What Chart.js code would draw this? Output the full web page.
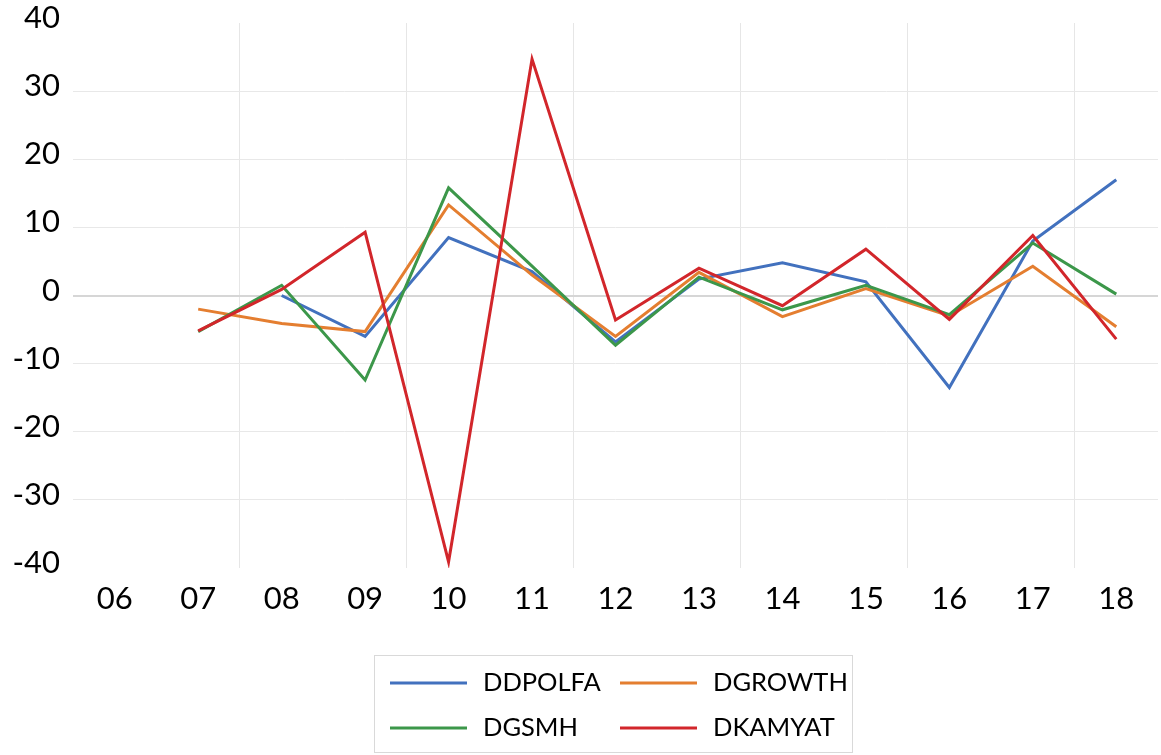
<!DOCTYPE html>
<html>
<head>
<meta charset="utf-8">
<script src="https://cdn.jsdelivr.net/npm/chart.js@4.4.1/dist/chart.umd.min.js"></script>
<style>
  html, body { margin: 0; padding: 0; background: #fff; }
  #wrap { width: 1161px; height: 755px; }
</style>
</head>
<body>
<div id="wrap"><canvas id="chart" width="1161" height="755"></canvas></div>
<script>
// categories (years)
const years = ['06', '07', '08', '09', '10', '11', '12', '13', '14', '15', '16', '17', '18'];

// series values
const ddpolfa = [null, null, 0.0, -6.0, 8.5, 3.5, -6.8, 2.4, 4.8, 2.0, -13.5, 8.0, 17.0];
const dgrowth = [null, -2.0, -4.1, -5.3, 13.3, 3.0, -6.0, 3.4, -3.1, 1.0, -3.0, 4.3, -4.6];
const dgsmh   = [null, -5.3, 1.5, -12.4, 15.8, 4.3, -7.3, 2.7, -2.1, 1.5, -2.8, 7.7, 0.2];
const dkamyat = [null, -5.2, 0.9, 9.3, -39.1, 34.7, -3.6, 4.0, -1.5, 6.8, -3.5, 8.8, -6.4];

const seriesNames = ['DDPOLFA', 'DGROWTH', 'DGSMH', 'DKAMYAT'];
const seriesColors = ['#4271BE', '#E47E30', '#3C974A', '#D2262B'];

const yMin = -40, yMax = 40, yStep = 10;

// legend drawn in a box, two columns
const boxLegend = {
    id: 'boxLegend',
    afterDraw(chart) {
        const ctx = chart.ctx;
        ctx.save();
        ctx.strokeStyle = '#d9d9d9';
        ctx.lineWidth = 1;
        ctx.strokeRect(374.5, 655.5, 478, 97);
        chart.data.datasets.forEach((ds, i) => {
            const col = i % 2, row = Math.floor(i / 2);
            const x = 390 + col * 230;
            const y = 683 + row * 45;
            ctx.strokeStyle = ds.borderColor;
            ctx.lineWidth = 3;
            ctx.beginPath();
            ctx.moveTo(x, y);
            ctx.lineTo(x + 77, y);
            ctx.stroke();
            ctx.fillStyle = '#000';
            ctx.font = '25.5px Lato';
            ctx.textBaseline = 'alphabetic';
            ctx.fillText(ds.label, x + 93, y + 8);
        });
        ctx.restore();
    }
};

const ctx = document.getElementById('chart').getContext('2d');
Chart.defaults.font.family = 'Lato';
Chart.defaults.color = '#000';

const chart = new Chart(ctx, {
    type: 'line',
    data: {
        labels: years,
        datasets: [ddpolfa, dgrowth, dgsmh, dkamyat].map((vals, i) => ({
            label: seriesNames[i],
            data: vals,
            borderColor: seriesColors[i],
            backgroundColor: seriesColors[i],
            borderWidth: 3,
            pointRadius: 0,
            tension: 0,
            spanGaps: false,
            order: 4 - i // later series drawn on top
        }))
    },
    options: {
        responsive: false,
        animation: false,
        layout: { padding: { top: 23, right: 3, bottom: 137, left: 0 } },
        plugins: {
            legend: { display: false },
            tooltip: { enabled: false }
        },
        scales: {
            x: {
                offset: true,
                grid: {
                    offset: true,
                    drawTicks: false,
                    color: c => (c.index > 0 && c.index < years.length && c.index % 2 === 0) ? '#e6e6e6' : 'rgba(0,0,0,0)',
                    lineWidth: 1
                },
                border: { display: false },
                ticks: { font: { size: 31 }, padding: 12, maxRotation: 0, autoSkip: false },
                afterFit: s => { s.height = 50; }
            },
            y: {
                min: yMin,
                max: yMax,
                grid: {
                    drawTicks: false,
                    color: c => {
                        const v = c.tick ? c.tick.value : null;
                        if (v === 0) return '#d6d6d6';
                        if (v === yMin || v === yMax) return 'rgba(0,0,0,0)';
                        return '#e8e8e8';
                    },
                    lineWidth: c => (c.tick && c.tick.value === 0) ? 2 : 1
                },
                border: { display: false },
                ticks: { stepSize: yStep, font: { size: 31 }, padding: 13, labelOffset: -5 },
                afterFit: s => { s.width = 73; s.paddingTop = 0; s.paddingBottom = 0; }
            }
        }
    },
    plugins: [boxLegend]
});
</script>
</body>
</html>
